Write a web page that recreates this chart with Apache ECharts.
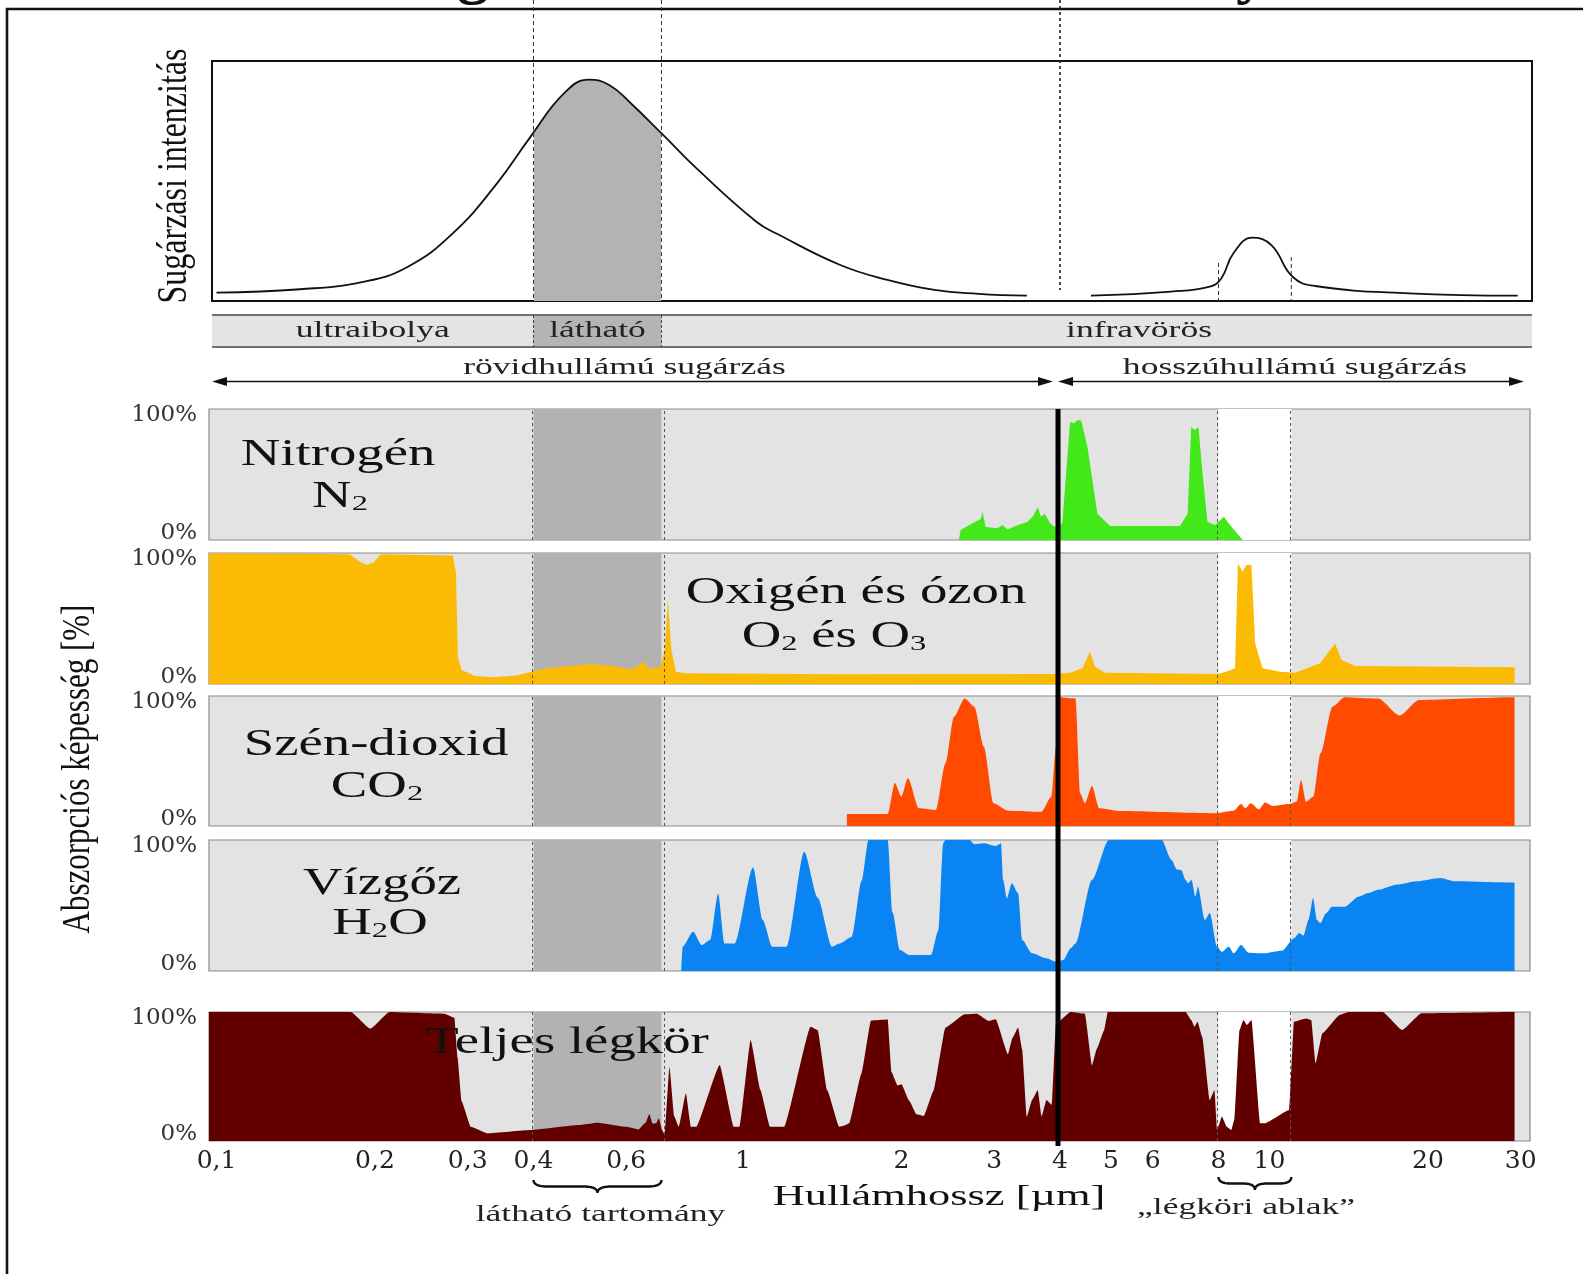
<!DOCTYPE html>
<html>
<head>
<meta charset="utf-8">
<script src="https://cdn.jsdelivr.net/npm/echarts@6/dist/echarts.min.js"></script>
<style>
  html, body { margin: 0; padding: 0; background: #fff; }
  #chart { width: 1583px; height: 1274px; }
</style>
</head>
<body>
<div id="chart"></div>
<script>
// ---- Wavelength bands (µm) ----
const visibleBand = [0.4, 0.7];
const windowBand = [8, 11];
const shortLongDivide = 4;

// ---- Radiation intensity (relative units) vs wavelength (µm) ----
const solarIntensity = [
  [0.1, 3.5], [0.144, 4.9], [0.19, 8.0], [0.231, 14.3], [0.281, 28.2], [0.341, 49.0],
  [0.395, 68.5], [0.457, 86.5], [0.51, 92.2], [0.557, 90.0], [0.612, 82.4], [0.705, 69.2],
  [0.822, 54.6], [1.06, 33.0], [1.16, 28.0], [1.53, 15.0], [1.88, 8.8], [2.31, 4.6],
  [2.8, 3.0], [3.46, 2.2]
];
const terrestrialIntensity = [
  [4.58, 2.2], [6.5, 3.9], [7.7, 6.0], [8.1, 9.5], [8.54, 19.9], [9.27, 26.4],
  [10.08, 23.3], [11.06, 10.1], [12.2, 6.25], [18.4, 3.2], [29.6, 2.2]
];

// ---- Absorption (%) vs wavelength (µm) ----
const nitrogen = [
  [2.57, 0], [2.59, 7.6], [2.76, 14], [2.83, 16], [2.85, 21.6], [2.89, 10], [3.04, 9],
  [3.11, 11.5], [3.18, 8], [3.29, 10.7], [3.47, 14], [3.55, 17.8], [3.63, 25], [3.68, 17.8],
  [3.74, 20], [3.83, 12.7], [3.91, 10], [4.04, 12.7], [4.18, 90], [4.25, 89], [4.32, 91.6],
  [4.39, 91], [4.51, 71], [4.71, 20], [4.98, 10.7], [6.76, 10.7], [6.99, 20], [7.1, 86.5],
  [7.2, 84], [7.33, 86], [7.43, 58.5], [7.62, 14], [7.88, 11.5], [8.19, 17.8], [8.36, 12.7],
  [8.89, 0]
];
const oxygenOzone = [
  [0.09, 100], [0.179, 99], [0.188, 93], [0.193, 91], [0.199, 93], [0.205, 99], [0.281, 98],
  [0.285, 84.5], [0.2874, 20.8], [0.292, 10.7], [0.31, 6.1], [0.335, 5.1], [0.369, 6.3],
  [0.423, 12], [0.514, 15.3], [0.566, 13.7], [0.613, 11.2], [0.637, 14.5], [0.648, 17.8],
  [0.656, 13.2], [0.669, 11.2], [0.683, 13.2], [0.696, 12], [0.71, 26], [0.72, 64],
  [0.731, 26], [0.746, 9.4], [0.775, 8.2], [1.5, 7.5], [3.91, 7.6], [4.18, 8.6], [4.41, 12],
  [4.56, 24.7], [4.66, 13.2], [4.87, 8.6], [7.97, 7.6], [8.27, 9.4], [8.6, 12], [8.71, 92],
  [8.89, 85.7], [9.03, 90.8], [9.24, 90.8], [9.39, 31], [9.7, 12], [10.47, 9.4], [11.18, 8.6],
  [12.47, 15.8], [13.32, 31], [13.7, 18.3], [14.54, 13.7], [29.2, 12.7], [29.2, 0]
];
const carbonDioxide = [
  [1.575, 0], [1.575, 9.2], [1.883, 9.2], [1.943, 33], [1.998, 22.5], [2.057, 36.7],
  [2.158, 13.6], [2.324, 12.3], [2.423, 48], [2.516, 84], [2.636, 98], [2.75, 91.8],
  [2.867, 61], [2.99, 17.5], [3.185, 11.8], [3.69, 11], [3.85, 22.5], [3.93, 61], [4.0, 99],
  [4.28, 98], [4.37, 25], [4.46, 17.5], [4.6, 30.8], [4.75, 13.6], [5.17, 11.5], [7.86, 9.8],
  [8.55, 11.8], [8.83, 16.9], [9.0, 13.6], [9.21, 17.5], [9.55, 12.8], [9.81, 18], [10.13, 15.4],
  [10.9, 16.9], [11.26, 18.7], [11.48, 35.4], [11.73, 18.7], [12.11, 22.5], [12.5, 56],
  [13.17, 91.8], [13.88, 99], [16.08, 98], [17.67, 85], [19.23, 96.9], [29.2, 99], [29.2, 0]
];
const waterVapour = [
  [0.763, 0], [0.768, 18.6], [0.804, 30], [0.835, 19.8], [0.866, 23.7], [0.897, 59], [0.922, 21],
  [0.964, 21], [1.045, 79], [1.09, 38.9], [1.136, 18.6], [1.21, 18.6], [1.307, 91], [1.386, 56],
  [1.476, 18.6], [1.525, 21], [1.608, 26], [1.68, 69], [1.731, 100], [1.883, 100], [1.923, 44.8],
  [1.985, 16], [2.07, 12.2], [2.275, 12.2], [2.35, 31], [2.4, 97.5], [2.423, 100], [2.69, 100],
  [2.75, 96.8], [2.867, 97.5], [3.02, 95.4], [3.09, 97.5], [3.12, 69.5], [3.17, 55.5], [3.24, 67],
  [3.33, 59.5], [3.39, 23.7], [3.54, 13.5], [3.77, 9.7], [3.93, 7], [4.06, 8.4], [4.19, 17.3],
  [4.28, 21], [4.6, 69.5], [4.95, 100], [6.24, 100], [6.51, 85], [6.67, 77.5], [6.8, 77],
  [6.93, 69.5], [7.0, 67], [7.11, 69.5], [7.23, 56.8], [7.31, 64.4], [7.54, 39], [7.7, 44.3],
  [7.95, 18.6], [8.12, 14.7], [8.37, 18.6], [8.55, 13.5], [8.83, 19.8], [9.12, 14], [9.71, 13.5],
  [10.56, 15.5], [11.13, 25], [11.39, 29], [11.6, 27], [11.86, 39], [12.1, 55.5], [12.3, 39],
  [12.5, 36.6], [12.8, 44], [13.15, 49], [13.9, 49], [14.78, 56.8], [15.4, 59.5], [16.08, 62],
  [17.5, 66], [19.02, 68.5], [21.1, 71], [22.5, 68.5], [29.2, 67.5], [29.2, 0]
];
const wholeAtmosphere = [
  [0.09, 100], [0.18, 100], [0.196, 87], [0.213, 100], [0.271, 98.7], [0.283, 95.6], [0.287, 64.6],
  [0.292, 31], [0.304, 11], [0.327, 5.9], [0.395, 8.5], [0.487, 12.4], [0.53, 14.2], [0.6, 11],
  [0.633, 9], [0.653, 14.2], [0.664, 20.9], [0.673, 13.5], [0.684, 13.7], [0.692, 17.6],
  [0.702, 8.5], [0.71, 5], [0.725, 57.4], [0.74, 19.4], [0.755, 11], [0.779, 37], [0.796, 11],
  [0.815, 11], [0.903, 59], [0.961, 11], [0.985, 11], [1.034, 78.3], [1.079, 39.5], [1.125, 11],
  [1.197, 11], [1.344, 88.6], [1.386, 86], [1.445, 39.5], [1.523, 11], [1.56, 12], [1.591, 13.7],
  [1.678, 52], [1.75, 93.4], [1.883, 94.2], [1.914, 53.4], [1.966, 43], [2.0, 44], [2.07, 31],
  [2.135, 20.7], [2.205, 19.4], [2.3, 38.8], [2.423, 87.8], [2.636, 98.2], [2.78, 98.7],
  [2.93, 93], [3.02, 94.3], [3.185, 67.2], [3.25, 80], [3.33, 88], [3.39, 71], [3.46, 18.9],
  [3.54, 31.8], [3.63, 39.5], [3.69, 18.9], [3.77, 31.8], [3.86, 28], [3.93, 91], [4.19, 100],
  [4.46, 98.7], [4.6, 58.6], [4.7, 71.5], [4.85, 85.6], [4.93, 100], [6.93, 100], [7.1, 93.8],
  [7.2, 88.6], [7.3, 92.5], [7.45, 80.8], [7.7, 31.8], [7.86, 39.5], [7.95, 8.5], [8.12, 18.9],
  [8.29, 11], [8.46, 8.5], [8.58, 17], [8.77, 86], [8.92, 93.8], [9.06, 89.9], [9.24, 93.8],
  [9.6, 13.7], [9.8, 13.7], [10.9, 24], [11.13, 92.5], [11.73, 95], [12.0, 93.8], [12.23, 60.2],
  [12.6, 83.5], [13.59, 97.7], [14.1, 100], [16.4, 100], [17.86, 86], [19.43, 99], [29.2, 100],
  [29.2, 0]
];

// ---- Axis ticks ----
const tickValues = [0.1, 0.2, 0.3, 0.4, 0.6, 1, 2, 3, 4, 5, 6, 8, 10, 20, 30];
const tickLabels = ['0,1', '0,2', '0,3', '0,4', '0,6', '1', '2', '3', '4', '5', '6', '8', '10', '20', '30'];

// ---- Texts ----
const panelTitles = ['Nitrogén', 'Oxigén és ózon', 'Szén-dioxid', 'Vízgőz', 'Teljes légkör'];
const panelFormulas = ['{m|N}{s|2}', '{m|O}{s|2}{m| és O}{s|3}', '{m|CO}{s|2}', '{m|H}{s|2}{m|O}', null];
const bandNames = ['ultraibolya', 'látható', 'infravörös'];
const waveGroups = ['rövidhullámú sugárzás', 'hosszúhullámú sugárzás'];

// ---------------------------------------------------------------------------
const chart = echarts.init(document.getElementById('chart'));
const L = Math.log10;
const toLog = arr => arr.map(([w, a]) => [L(w), a]);
const SERIF = '"Liberation Serif", "Times New Roman", serif';
const LABEL_FONT = '"DejaVu Serif", serif';

// wavelength extent of the plotting boxes
const panelRange = [0.09677, 31.24];
const intensityRange = [0.09805, 31.51];

const panelDefs = [
  { data: nitrogen, color: '#43e81b', smooth: 0, top: 409, height: 131 },
  { data: oxygenOzone, color: '#fbbb05', smooth: 0, top: 553, height: 131 },
  { data: carbonDioxide, color: '#ff4a00', smooth: 0.25, top: 696, height: 130 },
  { data: waterVapour, color: '#0b84f3', smooth: 0.25, top: 840, height: 131 },
  { data: wholeAtmosphere, color: '#620000', smooth: 0.12, top: 1012, height: 129 }
];

const grid = [{ left: 212, top: 61, width: 1320, height: 240, show: true, backgroundColor: '#fff', borderColor: '#111', borderWidth: 2 }];
const xAxis = [{ type: 'value', gridIndex: 0, min: L(intensityRange[0]), max: L(intensityRange[1]), show: false }];
const yAxis = [{ type: 'value', gridIndex: 0, min: 0, max: 100, show: false }];

const series = [
  { // visible part of the solar curve
    type: 'line', xAxisIndex: 0, yAxisIndex: 0, data: toLog(solarIntensity), smooth: 0.45,
    symbol: 'none', lineStyle: { width: 0 }, areaStyle: { opacity: 1 }, z: 2, silent: true
  },
  {
    type: 'line', xAxisIndex: 0, yAxisIndex: 0, data: toLog(solarIntensity), smooth: 0.45,
    symbol: 'none', lineStyle: { color: '#111', width: 1.8 }, z: 4, silent: true
  },
  {
    type: 'line', xAxisIndex: 0, yAxisIndex: 0, data: toLog(terrestrialIntensity), smooth: 0.45,
    symbol: 'none', lineStyle: { color: '#111', width: 1.8 }, z: 4, silent: true
  }
];

const tickLabelFor = v => {
  const i = tickValues.findIndex(t => Math.abs(L(t) - v) < 1e-6);
  return i >= 0 ? tickLabels[i] : '';
};

panelDefs.forEach((p, k) => {
  const gi = k + 1;
  const last = k === panelDefs.length - 1;
  grid.push({ left: 209, top: p.top, width: 1321, height: p.height, show: true,
    backgroundColor: '#e3e3e3', borderColor: '#8a8a8a', borderWidth: 1.2 });
  xAxis.push({
    type: 'value', gridIndex: gi, min: L(panelRange[0]), max: L(panelRange[1]),
    show: last,
    axisLine: { show: false }, axisTick: { show: false }, splitLine: { show: false },
    axisLabel: {
      show: last, customValues: tickValues.map(L), formatter: tickLabelFor,
      fontFamily: LABEL_FONT, fontSize: 25, color: '#222', margin: 8
    }
  });
  yAxis.push({
    type: 'value', gridIndex: gi, min: 0, max: 100, interval: 100,
    axisLine: { show: false }, axisTick: { show: false }, splitLine: { show: false },
    axisLabel: {
      margin: 12,
      formatter: v => (v === 100 ? '{t|100%}' : '{b|0%}'),
      rich: {
        t: { fontFamily: LABEL_FONT, fontSize: 23, color: '#333', padding: [13, 0, 0, 0] },
        b: { fontFamily: LABEL_FONT, fontSize: 23, color: '#333', padding: [0, 0, 13, 0] }
      }
    }
  });
  // band shading behind the absorption curve
  series.push({
    type: 'line', xAxisIndex: gi, yAxisIndex: gi, data: [], z: 1, silent: true,
    markArea: {
      silent: true, itemStyle: { opacity: 1 },
      data: [
        [{ xAxis: L(visibleBand[0]), itemStyle: { color: '#b2b2b2' } }, { xAxis: L(visibleBand[1]) }],
        [{ xAxis: L(windowBand[0]), itemStyle: { color: '#ffffff' } }, { xAxis: L(windowBand[1]) }]
      ]
    }
  });
  series.push({
    type: 'line', xAxisIndex: gi, yAxisIndex: gi, data: toLog(p.data),
    smooth: p.smooth, smoothMonotone: 'x', symbol: 'none', silent: true, z: 3,
    lineStyle: { width: 0 }, areaStyle: { color: p.color, opacity: 1 }
  });
  // dotted band edges on top
  series.push({
    type: 'line', xAxisIndex: gi, yAxisIndex: gi, data: [], z: 5, silent: true,
    markLine: {
      silent: true, symbol: ['none', 'none'], label: { show: false },
      lineStyle: { color: '#555', type: [3, 3], width: 1 },
      data: [visibleBand[0], visibleBand[1], windowBand[0], windowBand[1]].map(v => ({ xAxis: L(v) }))
    }
  });
});

chart.setOption({
  animation: false,
  textStyle: { fontFamily: SERIF },
  grid, xAxis, yAxis, series,
  visualMap: {
    type: 'piecewise', show: false, seriesIndex: 0, dimension: 0,
    pieces: [{ gte: L(visibleBand[0]), lte: L(visibleBand[1]), color: '#b3b3b3' }],
    outOfRange: { color: 'rgba(255,255,255,0)' }
  }
});

// ---- annotations placed on the wavelength scale ----
const px = v => chart.convertToPixel({ gridIndex: 1 }, [L(v), 0])[0];
const x04 = px(visibleBand[0]), x07 = px(visibleBand[1]);
const x4 = px(shortLongDivide), x8 = px(windowBand[0]), x11 = px(windowBand[1]);
const Z = 100;

const line = (x1, y1, x2, y2, stroke, w, dash) => ({
  type: 'line', z: Z, silent: true, shape: { x1, y1, x2, y2 },
  style: { stroke, lineWidth: w, lineDash: dash || null }
});
const text = (x, y, str, size, opt = {}) => ({
  type: 'text', z: Z, silent: true, x, y,
  scaleX: opt.sx !== undefined ? opt.sx : 1.48, scaleY: opt.sy !== undefined ? opt.sy : 1,
  rotation: opt.rot || 0,
  style: {
    text: str, fontSize: size, fontFamily: opt.family || SERIF, fontWeight: opt.weight || 'normal',
    fill: opt.fill || '#111', align: 'center', verticalAlign: opt.va || 'middle', rich: opt.rich
  }
});
const quad = (p0, c, p1, n) => {
  const pts = [];
  for (let i = 0; i <= n; i++) {
    const t = i / n;
    pts.push([(1 - t) * (1 - t) * p0[0] + 2 * (1 - t) * t * c[0] + t * t * p1[0],
              (1 - t) * (1 - t) * p0[1] + 2 * (1 - t) * t * c[1] + t * t * p1[1]]);
  }
  return pts;
};
const brace = (xa, xb, y0, h) => {
  const xm = (xa + xb) / 2, ym = y0 + h * 0.5, r = Math.min(14, (xb - xa) / 6);
  return {
    type: 'polyline', z: Z, silent: true,
    shape: { points: [].concat(
      quad([xa, y0], [xa, ym], [xa + r, ym], 12),
      quad([xm - r, ym], [xm, ym], [xm, y0 + h], 12),
      quad([xm, y0 + h], [xm, ym], [xm + r, ym], 12),
      quad([xb - r, ym], [xb, ym], [xb, y0], 12)) },
    style: { stroke: '#111', lineWidth: 2.4, fill: null }
  };
};
const arrowHead = (xTip, y, dir) => ({
  type: 'polygon', z: Z, silent: true,
  shape: { points: [[xTip, y], [xTip - dir * 15, y - 4.5], [xTip - dir * 15, y + 4.5]] },
  style: { fill: '#111' }
});

const els = [];
// outer frame
els.push({ type: 'polyline', z: Z, silent: true, shape: { points: [[7, 1290], [7, 9], [1600, 9]] },
  style: { stroke: '#111', lineWidth: 2.6, fill: null } });
// heading letters cut by the top edge
els.push(text(473, 6, 'g', 64, { sx: 1, weight: 'bold', va: 'bottom' }));
els.push(text(1252, 6, 'y', 64, { sx: 1, weight: 'bold', va: 'bottom' }));

// dotted guides through the intensity box
els.push(line(x04, 0, x04, 301, '#333', 1, [4, 3]));
els.push(line(x07, 0, x07, 301, '#333', 1, [4, 3]));
els.push(line(x4, 0, x4, 290, '#222', 1.6, [3, 3]));
els.push(line(x8, 263, x8, 301, '#333', 1, [4, 3]));
els.push(line(x11, 257, x11, 301, '#333', 1, [4, 3]));

// spectral range bar
els.push({ type: 'rect', z: Z, silent: true, shape: { x: 212, y: 315, width: 1320, height: 32 }, style: { fill: '#e4e4e4' } });
els.push({ type: 'rect', z: Z, silent: true, shape: { x: x04, y: 315, width: x07 - x04, height: 32 }, style: { fill: '#b4b4b4' } });
els.push(line(212, 315, 1532, 315, '#707070', 2));
els.push(line(212, 347, 1532, 347, '#707070', 2));
els.push(line(x04, 315, x04, 347, '#444', 1, [3, 2]));
els.push(line(x07, 315, x07, 347, '#444', 1, [3, 2]));
els.push(text((212 + x04) / 2, 331, bandNames[0], 24, { fill: '#222' }));
els.push(text((x04 + x07) / 2, 331, bandNames[1], 24, { fill: '#222' }));
els.push(text(1139, 331, bandNames[2], 24, { fill: '#222' }));

// short / long wave arrows
const ay = 381.5, xa = 212, xb = x4 - 7, xc = x4 - 2, xd = 1524;
els.push(line(xa + 8, ay, xb - 8, ay, '#111', 1.6));
els.push(arrowHead(xa, ay, -1), arrowHead(xb, ay, 1));
els.push(line(xc + 8, ay, xd - 8, ay, '#111', 1.6));
els.push(arrowHead(xc, ay, -1), arrowHead(xd, ay, 1));
els.push(text((xa + xb) / 2 - 8, 368, waveGroups[0], 24, { fill: '#222' }));
els.push(text((xc + xd) / 2 + 4, 368, waveGroups[1], 24, { fill: '#222' }));

// 4 µm divider across the absorption panels
els.push(line(x4 - 2, 409, x4 - 2, 1146, '#000', 5));

// panel names
const subRich = {
  m: { fontSize: 37, fontFamily: SERIF, fill: '#111' },
  s: { fontSize: 22, fontFamily: SERIF, fill: '#111', padding: [14, 0, 0, 0] }
};
const titlePos = [[338, 455], [856, 593], [376, 745], [382, 884], [567, 1043]];
const formulaPos = [[340, 497], [834, 637], [377, 787], [380, 924]];
panelTitles.forEach((t, i) => els.push(text(titlePos[i][0], titlePos[i][1], t, 37)));
panelFormulas.forEach((f, i) => {
  if (f) els.push(text(formulaPos[i][0], formulaPos[i][1], f, 37, { rich: subRich }));
});

// axis names
els.push(text(175, 176, 'Sugárzási intenzitás', 32, { sx: 1, sy: 1.3, rot: Math.PI / 2 }));
els.push(text(78, 769, 'Abszorpciós képesség [%]', 31, { sx: 1, sy: 1.3, rot: Math.PI / 2 }));
els.push(text(939, 1197, 'Hullámhossz [µm]', 30));

// braces under the axis
els.push(brace(x04, x07, 1180, 13));
els.push(text((x04 + x07) / 2 + 3, 1215, 'látható tartomány', 24, { fill: '#222' }));
els.push(brace(x8, x11, 1177, 13));
els.push(text(1246, 1208, '„légköri ablak”', 24, { fill: '#222' }));

chart.setOption({ graphic: { elements: els } });
</script>
</body>
</html>
